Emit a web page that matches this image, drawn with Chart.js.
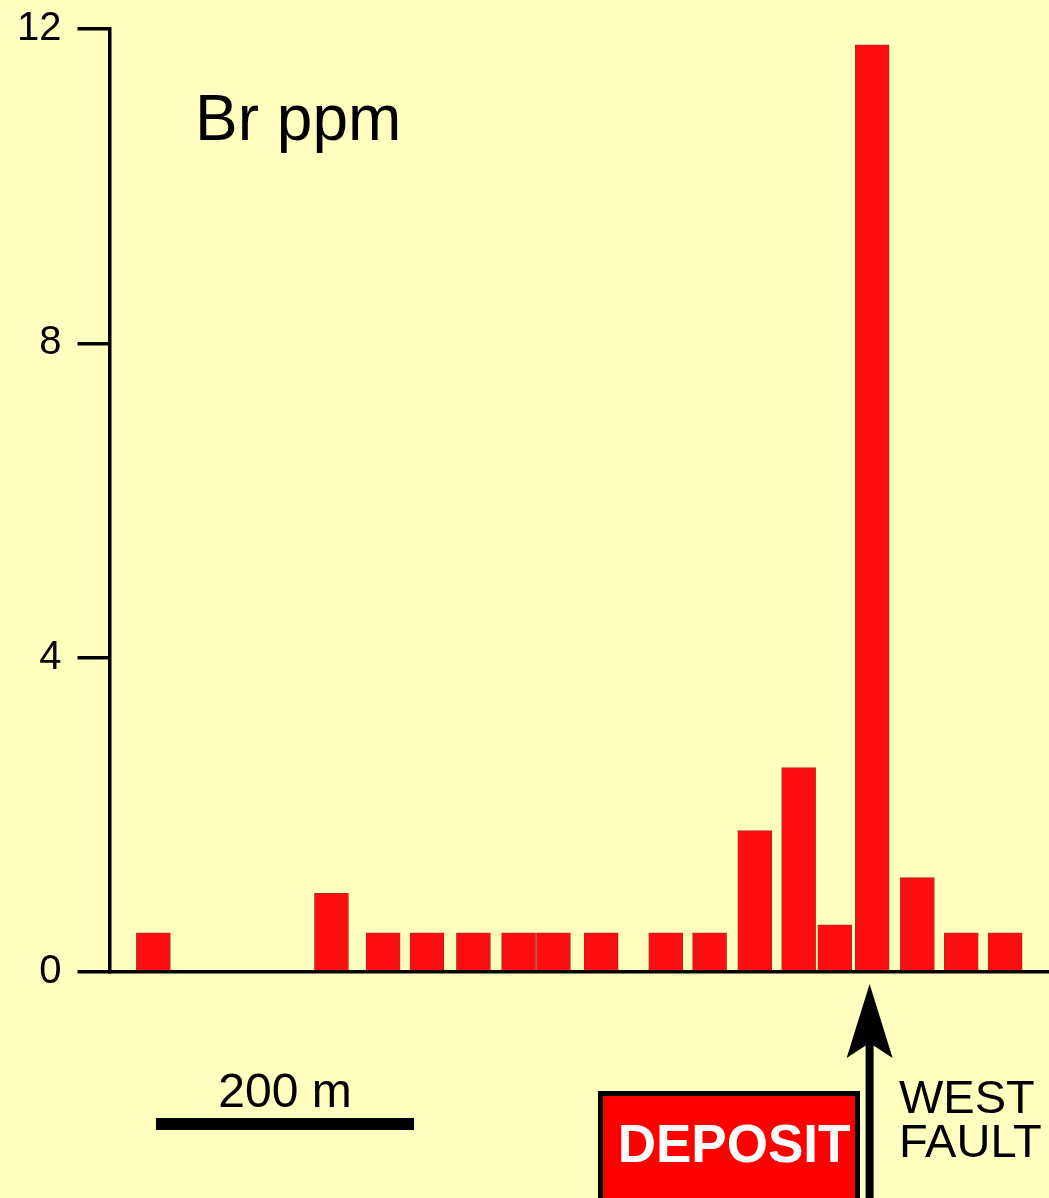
<!DOCTYPE html>
<html>
<head>
<meta charset="utf-8">
<script src="https://cdn.jsdelivr.net/npm/chart.js@4/dist/chart.umd.min.js"></script>
<style>
  html, body { margin: 0; padding: 0; background: #FFFFC0; }
  #wrap { width: 1049px; height: 1198px; position: relative; }
</style>
</head>
<body>
<div id="wrap"><canvas id="c" width="1049" height="1198"></canvas></div>
<script>
// Distance along traverse (m) of each sample, and Br (ppm)
const distances = [34, 172, 212, 246, 282, 317, 344, 381, 431, 465, 500, 534, 562, 591, 626, 660, 694];
const brValues  = [0.5, 1.0, 0.5, 0.5, 0.5, 0.5, 0.5, 0.5, 0.5, 0.5, 1.8, 2.6, 0.6, 11.8, 1.2, 0.5, 0.5];
const yTicks = [0, 4, 8, 12];
const chartTitle = 'Br ppm';
const scaleBarLength = 200; // m
const scaleBarLabel = '200 m';
const depositLabel = 'DEPOSIT';
const faultLabel = ['WEST', 'FAULT'];
const faultPosition = 589; // m

const FONT = '"Liberation Sans", Arial, Helvetica, sans-serif';

const annotations = {
  id: 'annotations',
  beforeDraw(chart) {
    const ctx = chart.ctx;
    ctx.save();
    ctx.fillStyle = '#FFFFC0';
    ctx.fillRect(0, 0, chart.width, chart.height);
    ctx.restore();
  },
  afterDraw(chart) {
    const ctx = chart.ctx;
    const xs = chart.scales.x;
    ctx.save();
    // title
    ctx.fillStyle = '#000';
    ctx.font = '64px ' + FONT;
    ctx.textAlign = 'left';
    ctx.textBaseline = 'alphabetic';
    ctx.fillText(chartTitle, 195, 140);

    // scale bar
    const sx0 = xs.getPixelForValue(36);
    const sx1 = xs.getPixelForValue(36 + scaleBarLength);
    ctx.fillRect(sx0, 1118, sx1 - sx0, 12);
    ctx.font = '48px ' + FONT;
    ctx.textAlign = 'center';
    ctx.fillText(scaleBarLabel, (sx0 + sx1) / 2, 1107);

    // deposit box
    ctx.fillStyle = '#FF0000';
    ctx.fillRect(600, 1093, 258, 120);
    ctx.strokeStyle = '#000';
    ctx.lineWidth = 5;
    ctx.strokeRect(600.5, 1093.5, 257, 120);
    ctx.fillStyle = '#FFFFFF';
    ctx.font = 'bold 53px ' + FONT;
    ctx.textAlign = 'center';
    ctx.fillText(depositLabel, 734, 1162);

    // arrow
    const ax = xs.getPixelForValue(faultPosition);
    ctx.fillStyle = '#000';
    ctx.fillRect(ax - 4, 1040, 8, 170);
    ctx.beginPath();
    ctx.moveTo(ax, 984);
    ctx.lineTo(ax + 23, 1058);
    ctx.lineTo(ax, 1043);
    ctx.lineTo(ax - 23, 1058);
    ctx.closePath();
    ctx.fill();

    // fault label
    ctx.font = '47px ' + FONT;
    ctx.textAlign = 'left';
    ctx.fillText(faultLabel[0], 899, 1113);
    ctx.fillText(faultLabel[1], 899, 1157);
    ctx.restore();
  }
};

new Chart(document.getElementById('c'), {
  type: 'bar',
  data: {
    datasets: [{
      data: distances.map((d, i) => ({ x: d, y: brValues[i] })),
      backgroundColor: '#FC0D10',
      borderColor: '#B8281C',
      borderWidth: 1,
      barThickness: 34
    }]
  },
  options: {
    responsive: false,
    animation: false,
    events: [],
    layout: { padding: { left: 1, top: 29, right: 0, bottom: 226 } },
    plugins: { legend: { display: false }, tooltip: { enabled: false } },
    scales: {
      x: {
        type: 'linear',
        min: 0,
        max: 728,
        offset: false,
        ticks: { display: false },
        grid: { display: false, drawTicks: false },
        border: { display: true, color: '#000', width: 3.5 }
      },
      y: {
        min: 0,
        max: 12,
        afterBuildTicks(axis) { axis.ticks = yTicks.map(v => ({ value: v })); },
        afterFit(axis) { axis.paddingTop = 0; axis.paddingBottom = 0; },
        ticks: {
          color: '#000',
          font: { family: FONT, size: 40 },
          padding: 16
        },
        grid: {
          drawOnChartArea: false,
          drawTicks: true,
          tickLength: 32,
          lineWidth: 3.5,
          color: '#000'
        },
        border: { display: true, color: '#000', width: 3.5 }
      }
    }
  },
  plugins: [annotations]
});
</script>
</body>
</html>
